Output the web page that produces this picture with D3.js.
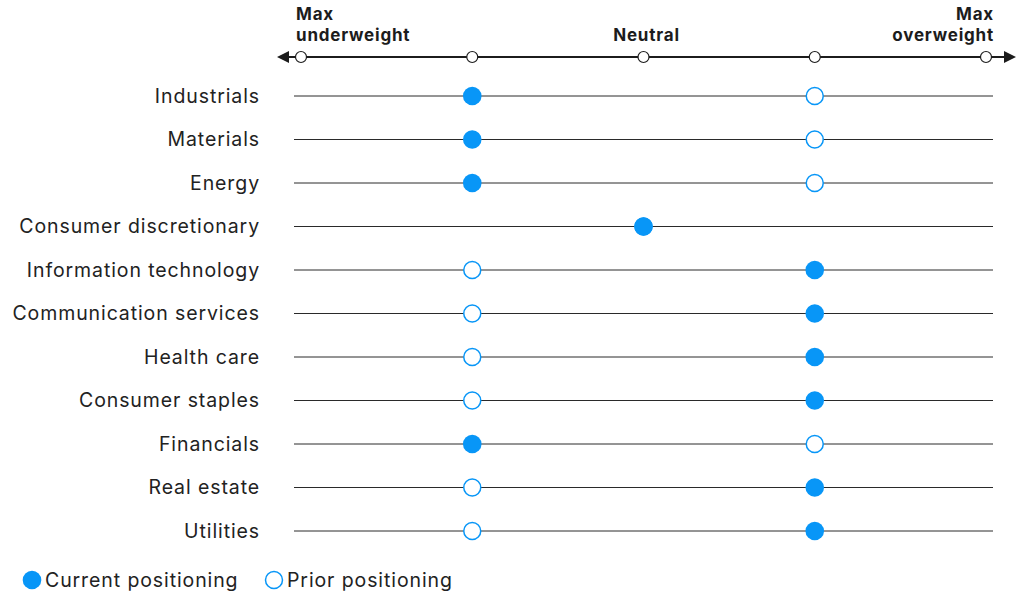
<!DOCTYPE html>
<html>
<head>
<meta charset="utf-8">
<script src="https://cdn.jsdelivr.net/npm/d3@7"></script>
<style>
  html, body { margin: 0; padding: 0; background: #fff; }
  svg { display: block; font-family: Inter, "Noto Sans", sans-serif; }
</style>
</head>
<body>
<svg id="chart" width="1026" height="596"></svg>
<script>
// Sector positioning on a -2 (max underweight) .. +2 (max overweight) scale
const sectors = ["Industrials", "Materials", "Energy", "Consumer discretionary",
  "Information technology", "Communication services", "Health care",
  "Consumer staples", "Financials", "Real estate", "Utilities"];
const current = [-1, -1, -1, 0, 1, 1, 1, 1, -1, 1, 1];
const prior   = [1, 1, 1, 0, -1, -1, -1, -1, 1, -1, -1];
const axisTicks = [-2, -1, 0, 1, 2];
const headerLabels = [
  { value: -2, lines: ["Max", "underweight"], anchor: "start" },
  { value: 0, lines: ["Neutral"], anchor: "middle" },
  { value: 2, lines: ["Max", "overweight"], anchor: "end" }
];
const legendItems = [
  { label: "Current positioning", filled: true },
  { label: "Prior positioning", filled: false }
];

const blue = "#0896f7";
const ink = "#1c1c1c";

const svg = d3.select("#chart");

const x = d3.scaleLinear().domain([-2, 2]).range([301, 986]);
const y = d3.scalePoint().domain(sectors).range([96, 531]);

// Top axis with arrows
const axisY = 57;
svg.append("line")
  .attr("x1", 284).attr("x2", 1006)
  .attr("y1", axisY).attr("y2", axisY)
  .attr("stroke", ink).attr("stroke-width", 1.8);
svg.append("path")
  .attr("d", `M277,${axisY} L289,${axisY - 6} L289,${axisY + 6} Z`)
  .attr("fill", ink);
svg.append("path")
  .attr("d", `M1016,${axisY} L1004,${axisY - 6} L1004,${axisY + 6} Z`)
  .attr("fill", ink);
svg.selectAll("circle.tick")
  .data(axisTicks).join("circle")
  .attr("class", "tick")
  .attr("cx", d => x(d)).attr("cy", axisY).attr("r", 5.5)
  .attr("fill", "#fff").attr("stroke", ink).attr("stroke-width", 1.2);

// Header labels
headerLabels.forEach(h => {
  const n = h.lines.length;
  const t = svg.append("text")
    .attr("text-anchor", h.anchor)
    .attr("font-size", 17).attr("font-weight", 700)
    .attr("letter-spacing", 0.8).attr("fill", ink);
  const xx = h.anchor === "start" ? x(h.value) - 5 : h.anchor === "end" ? x(h.value) + 8 : x(h.value) + 3;
  h.lines.forEach((line, i) => {
    t.append("tspan").attr("x", xx).attr("y", 41 - (n - 1 - i) * 21).text(line);
  });
});

// Rows
const rows = svg.selectAll("g.row").data(sectors).join("g")
  .attr("class", "row")
  .attr("transform", d => `translate(0,${y(d)})`);

rows.append("line")
  .attr("x1", 294).attr("x2", 993)
  .attr("stroke", "#2a2a2a").attr("stroke-width", 1);

rows.append("text")
  .attr("x", 260).attr("y", 6.5)
  .attr("text-anchor", "end")
  .attr("font-size", 19.5).attr("letter-spacing", 0.9).attr("fill", "#222")
  .text(d => d);

rows.append("circle")
  .attr("cx", (d, i) => x(prior[i])).attr("r", 8.5)
  .attr("fill", "#fff").attr("stroke", blue).attr("stroke-width", 1.5);

rows.append("circle")
  .attr("cx", (d, i) => x(current[i])).attr("r", 9.3)
  .attr("fill", blue);

// Legend
const legendX = [32, 274];
legendItems.forEach((item, i) => {
  const g = svg.append("g").attr("transform", `translate(${legendX[i]},580)`);
  g.append("circle").attr("r", item.filled ? 9.3 : 8.5)
    .attr("fill", item.filled ? blue : "#fff")
    .attr("stroke", item.filled ? "none" : blue).attr("stroke-width", 1.5);
  g.append("text").attr("x", 13).attr("y", 7)
    .attr("font-size", 19.5).attr("letter-spacing", 0.9).attr("fill", "#222").text(item.label);
});
</script>
</body>
</html>
